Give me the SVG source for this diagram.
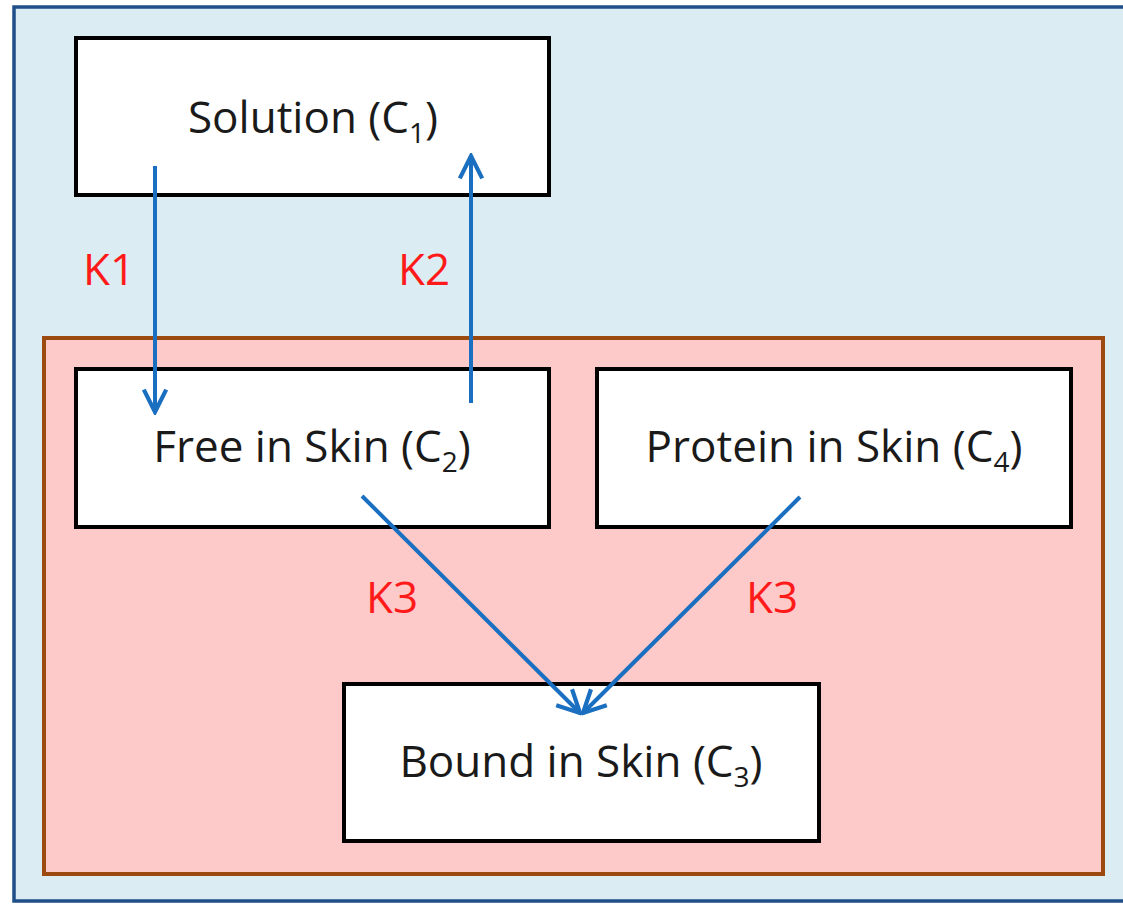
<svg xmlns="http://www.w3.org/2000/svg" width="1123" height="904" viewBox="0 0 1123 904">
  <defs>
    <style>
      .box { fill: #ffffff; stroke: #000000; stroke-width: 4; }
      .lbl { font-family: "Open Sans", "Liberation Sans", sans-serif; font-size: 44px; fill: #1a1a1a; text-anchor: middle; }
      .sub { font-size: 28px; }
      .k { font-family: "Open Sans", "Liberation Sans", sans-serif; font-size: 44px; fill: #ff1a1a; text-anchor: middle; }
      .arrow { stroke: #1a6fc0; stroke-width: 4; fill: none; marker-end: url(#head); }
    </style>
    <marker id="head" viewBox="0 0 20 20" refX="18" refY="10" markerWidth="7" markerHeight="7" markerUnits="strokeWidth" orient="auto">
      <path d="M2,2 L18,10 L2,18" fill="none" stroke="#1a6fc0" stroke-width="3"/>
    </marker>
  </defs>

  <!-- background compartments -->
  <rect id="outer" x="14" y="7" width="1120" height="894" fill="#dbecf2" stroke="#1f4e89" stroke-width="3.5"/>
  <rect id="skin" x="44" y="338" width="1059" height="536" fill="#fdc9c9" stroke="#9c4a0f" stroke-width="4"/>

  <g id="solution">
    <rect class="box" x="76" y="38" width="473" height="157"/>
    <text class="lbl" x="313" y="133">Solution (C<tspan class="sub" dy="10">1</tspan><tspan dy="-10">)</tspan></text>
  </g>
  <g id="free">
    <rect class="box" x="76" y="369" width="473" height="158"/>
    <text class="lbl" x="312" y="462">Free in Skin (C<tspan class="sub" dy="10">2</tspan><tspan dy="-10">)</tspan></text>
  </g>
  <g id="protein">
    <rect class="box" x="597" y="369" width="474" height="158"/>
    <text class="lbl" x="834" y="462">Protein in Skin (C<tspan class="sub" dy="10">4</tspan><tspan dy="-10">)</tspan></text>
  </g>
  <g id="bound">
    <rect class="box" x="344" y="684" width="475" height="157"/>
    <text class="lbl" x="581" y="777">Bound in Skin (C<tspan class="sub" dy="10">3</tspan><tspan dy="-10">)</tspan></text>
  </g>

  <g id="connectors">
    <line class="arrow" x1="155" y1="166" x2="155" y2="412"/>
    <line class="arrow" x1="471" y1="403" x2="471" y2="156"/>
    <line class="arrow" x1="362" y1="496" x2="580" y2="713"/>
    <line class="arrow" x1="800" y1="497" x2="583" y2="713"/>
  </g>

  <g id="rates">
    <text class="k" x="109" y="285">K1</text>
    <text class="k" x="424" y="285">K2</text>
    <text class="k" x="392" y="613">K3</text>
    <text class="k" x="772" y="613">K3</text>
  </g>
</svg>
